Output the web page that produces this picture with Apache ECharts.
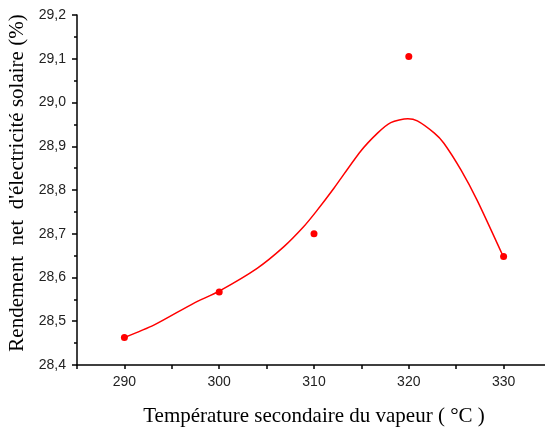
<!DOCTYPE html>
<html>
<head>
<meta charset="utf-8">
<script src="https://cdn.jsdelivr.net/npm/echarts@6/dist/echarts.min.js"></script>
<style>html,body{margin:0;padding:0;background:#fff}#c{width:545px;height:430px}</style>
</head>
<body>
<div id="c"></div>
<script>
// Measured points
const temperatures = [290, 300, 310, 320, 330];
const rendement = [28.463, 28.567, 28.700, 29.105, 28.648];
// Fitted curve
const curveX = [290.0, 293.1, 297.3, 300.0, 304.0, 306.8, 308.9, 310.2, 312.1, 314.9, 316.7, 318.1, 319.9, 320.9, 322.7, 323.7, 325.5, 327.2, 329.9];
const curveY = [28.463, 28.491, 28.541, 28.569, 28.621, 28.670, 28.716, 28.750, 28.804, 28.888, 28.930, 28.954, 28.963, 28.958, 28.930, 28.907, 28.846, 28.777, 28.651];
const yTicks = ['28,4','28,5','28,6','28,7','28,8','28,9','29,0','29,1','29,2'];

const chart = echarts.init(document.getElementById('c'), null, {renderer: 'canvas'});
chart.setOption({
  backgroundColor: '#fff',
  animation: false,
  grid: {left: 77, width: 474, top: 15, bottom: 65, containLabel: false, outerBoundsMode: 'none'},
  xAxis: {
    type: 'value', min: 285, max: 335, interval: 5,
    name: 'Température secondaire du vapeur ( °C )',
    nameLocation: 'middle', nameGap: 41,
    nameTextStyle: {fontFamily: 'Liberation Serif', fontSize: 21, color: '#000'},
    axisLine: {show: true, lineStyle: {color: '#000', width: 1.5}},
    axisTick: {show: true, length: 4, lineStyle: {color: '#000', width: 1.5}},
    axisLabel: {
      margin: 10, fontFamily: 'Liberation Sans', fontSize: 14, color: '#222',
      formatter: v => (v % 10 === 0 ? String(v) : '')
    },
    splitLine: {show: false}
  },
  yAxis: {
    type: 'value', min: 28.4, max: 29.2, interval: 0.1,
    name: "Rendement  net  d'électricité solaire (%)",
    nameLocation: 'middle', nameGap: 44,
    nameTextStyle: {fontFamily: 'Liberation Serif', fontSize: 21, color: '#000', padding: [0, 0, 0, 14]},
    axisLine: {show: true, lineStyle: {color: '#000', width: 1.5}},
    axisTick: {show: true, length: 5, lineStyle: {color: '#000', width: 1.5}},
    minorTick: {show: true, splitNumber: 2, length: 3, lineStyle: {color: '#000', width: 1.5}},
    axisLabel: {
      margin: 11, fontFamily: 'Liberation Sans', fontSize: 14, color: '#222',
      formatter: v => yTicks[Math.round((v - 28.4) * 10)]
    },
    splitLine: {show: false}
  },
  series: [
    {
      type: 'line', smooth: 0.25, showSymbol: false, symbol: 'none',
      lineStyle: {color: '#ff0000', width: 1.5},
      data: curveX.map((x, i) => [x, curveY[i]]),
      z: 2
    },
    {
      type: 'scatter', symbol: 'circle', symbolSize: 7,
      itemStyle: {color: '#ff0000', opacity: 1},
      data: temperatures.map((x, i) => [x, rendement[i]]),
      z: 3
    }
  ]
});
</script>
</body>
</html>
